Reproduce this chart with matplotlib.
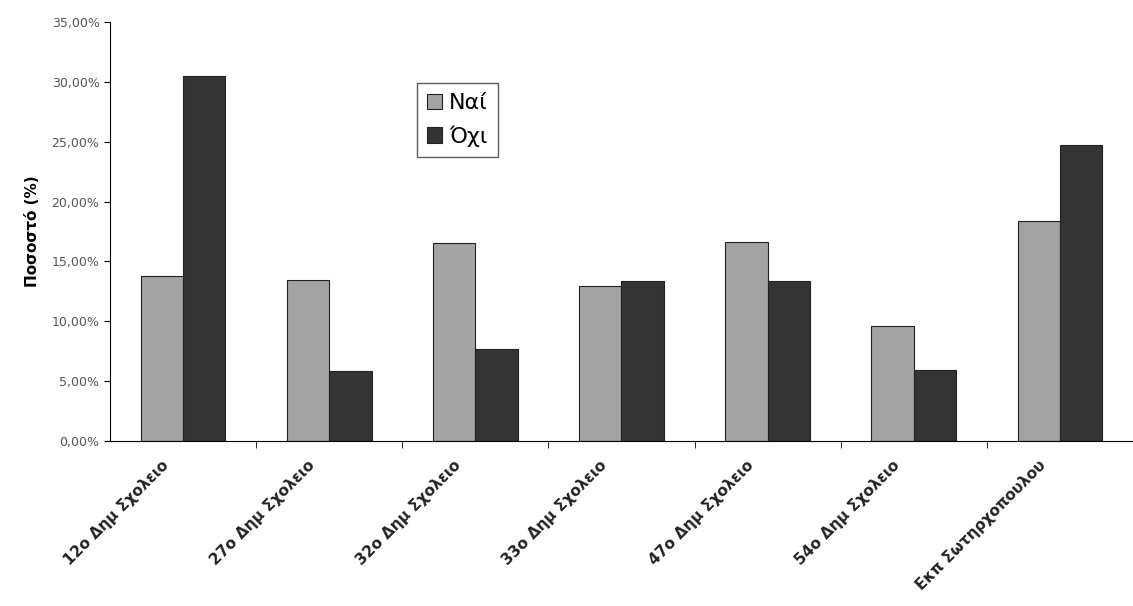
import numpy as np
import matplotlib.pyplot as plt
import matplotlib.transforms as mtrans
from matplotlib.ticker import FuncFormatter

schools = ["12ο Δημ Σχολειο", "27ο Δημ Σχολειο", "32ο Δημ Σχολειο", "33ο Δημ Σχολειο",
           "47ο Δημ Σχολειο", "54ο Δημ Σχολειο", "Εκπ Σωτηρχοπουλου"]
yes_pct = [13.8, 13.45, 16.5, 12.95, 16.6, 9.6, 18.4]
no_pct = [30.5, 5.85, 7.7, 13.4, 13.4, 5.9, 24.7]

plt.rcParams['font.family'] = ['DejaVu Sans']

fig = plt.figure(figsize=(11.33, 6.06), dpi=100)
ax = fig.add_axes([0.097, 0.272, 0.903, 0.692])

x = np.arange(len(schools))
w = 0.29
ax.bar(x - w/2, yes_pct, w, color='#a3a3a3', edgecolor='#222222', linewidth=0.8, label='Ναί')
ax.bar(x + w/2, no_pct, w, color='#343434', edgecolor='#222222', linewidth=0.8, label='Όχι')

ax.set_xlim(-0.5, len(schools) - 0.5)
ax.set_ylim(0, 35)
ax.set_yticks(np.arange(0, 36, 5))
ax.yaxis.set_major_formatter(FuncFormatter(lambda v, p: f"{v:.2f}%".replace('.', ',')))
ax.tick_params(axis='y', labelsize=9, labelcolor='#555555', direction='out', length=4)

# category ticks sit between groups
ax.set_xticks(x)
ax.set_xticklabels(schools, rotation=45, ha='right', rotation_mode='anchor',
                   fontsize=11, fontweight='bold', color='#222222')
ax.tick_params(axis='x', length=0, pad=12)
shift = mtrans.ScaledTranslation(-22/100, 0, fig.dpi_scale_trans)
for lab in ax.get_xticklabels():
    lab.set_transform(lab.get_transform() + shift)
ax.set_xticks(np.arange(0.5, len(schools) - 0.5, 1), minor=True)
ax.tick_params(axis='x', which='minor', length=5, direction='out')

ax.set_ylabel('Ποσοστό (%)', fontsize=11, fontweight='bold', labelpad=8)
ax.spines['top'].set_visible(False)
ax.spines['right'].set_visible(False)

ax.legend(loc='upper left', bbox_to_anchor=(0.289, 0.88), fontsize=16, frameon=True,
          fancybox=False, edgecolor='#333333', handlelength=0.7, handletextpad=0.3,
          borderpad=0.45, labelspacing=0.55)

fig.savefig('out.png', dpi=100)
